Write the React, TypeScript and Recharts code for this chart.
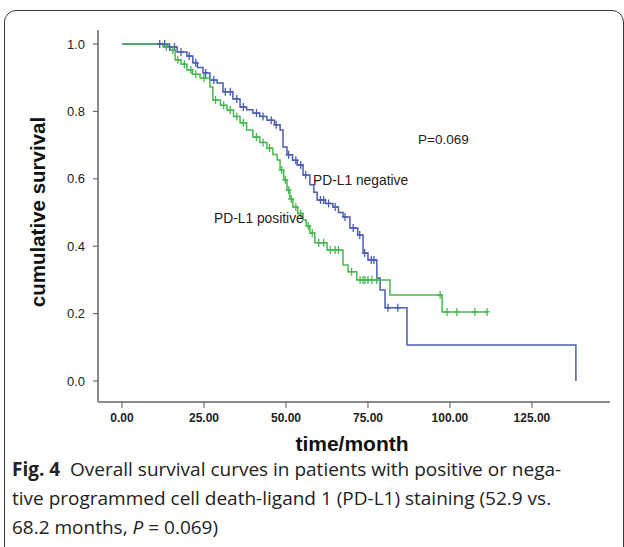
import React from "react";
import { ComposedChart, Line, Scatter, XAxis, YAxis } from "recharts";

// Kaplan-Meier step points: [time (months), cumulative survival]
const negTimes = [0, 14.0, 16.8, 19.8, 21.6, 23.0, 24.7, 26.8, 29.0, 30.8, 33.8, 36.0, 38.0, 39.9, 42.0, 44.2, 46.5, 48.2, 49.1, 50.3, 52.0, 53.4, 55.2, 57.3, 58.5, 59.5, 62.0, 64.3, 66.0, 67.4, 69.5, 71.9, 73.5, 75.0, 77.7, 78.7, 80.2, 86.9, 138.4];
const negSurv = [1.0, 0.991, 0.976, 0.964, 0.944, 0.93, 0.914, 0.893, 0.884, 0.858, 0.837, 0.813, 0.805, 0.795, 0.785, 0.774, 0.76, 0.745, 0.694, 0.671, 0.655, 0.641, 0.611, 0.582, 0.56, 0.537, 0.527, 0.516, 0.5, 0.487, 0.454, 0.433, 0.38, 0.359, 0.306, 0.27, 0.217, 0.107, 0.0];
const negCensored = [11.5, 13.0, 14.5, 16.0, 18.0, 20.5, 22.5, 25.5, 28.0, 31.5, 33.0, 35.0, 37.0, 41.0, 43.0, 45.5, 47.0, 50.8, 53.0, 54.5, 56.0, 60.5, 61.5, 63.0, 65.0, 68.0, 70.5, 72.5, 74.0, 76.0, 76.8, 81.1, 84.1];

const posTimes = [0, 12.5, 14.6, 16.2, 18.0, 19.8, 21.5, 23.8, 26.8, 27.7, 30.0, 32.0, 34.0, 36.0, 38.0, 39.9, 42.0, 44.2, 46.0, 47.3, 48.2, 49.3, 50.3, 51.2, 52.1, 53.6, 55.2, 56.2, 57.3, 58.8, 62.5, 67.4, 68.9, 71.6, 81.7, 97.6, 111.6];
const posSurv = [1.0, 0.991, 0.982, 0.953, 0.94, 0.923, 0.91, 0.899, 0.872, 0.834, 0.818, 0.804, 0.785, 0.766, 0.745, 0.724, 0.708, 0.691, 0.672, 0.656, 0.626, 0.597, 0.567, 0.54, 0.516, 0.497, 0.478, 0.46, 0.439, 0.41, 0.389, 0.344, 0.324, 0.3, 0.255, 0.205, 0.205];
const posCensored = [13.5, 15.5, 17.0, 19.0, 21.0, 22.5, 25.0, 28.5, 31.0, 33.0, 35.0, 37.0, 41.0, 43.0, 45.0, 48.7, 49.8, 50.8, 51.6, 53.0, 54.5, 56.8, 58.0, 60.0, 61.5, 63.5, 65.0, 66.0, 70.0, 72.6, 73.5, 74.1, 75.0, 76.2, 77.7, 97.0, 99.1, 102.1, 107.6, 111.3];

const xTicks = [0, 25, 50, 75, 100, 125];
const yTicks = [0, 0.2, 0.4, 0.6, 0.8, 1.0];

const BLUE = "#4a5db3";
const GREEN = "#45b94f";
const AXIS = "#8a8a8a";

const toSteps = (ts: number[], ss: number[]) => ts.map((t, i) => ({ t, s: ss[i] }));
const survAt = (ts: number[], ss: number[], t: number) => {
  let v = ss[0];
  for (let i = 0; i < ts.length; i++) if (ts[i] <= t) v = ss[i];
  return v;
};
const toCensor = (cs: number[], ts: number[], ss: number[]) =>
  cs.map((t) => ({ t, s: survAt(ts, ss, t) }));

const negData = toSteps(negTimes, negSurv);
const posData = toSteps(posTimes, posSurv);
const negCens = toCensor(negCensored, negTimes, negSurv);
const posCens = toCensor(posCensored, posTimes, posSurv);

const plus = (color: string) => (p: any) => {
  const { cx, cy } = p;
  if (cx == null || cy == null) return <g />;
  return (
    <path
      d={`M${cx - 3},${cy}H${cx + 3}M${cx},${cy - 4}V${cy + 4}`}
      stroke={color}
      strokeWidth={1.3}
      fill="none"
    />
  );
};

const SANS = "'Liberation Sans', Arial, sans-serif";
const lineStyle = { height: 22, lineHeight: "22px", marginBottom: 7 } as const;

export default function App() {
  return (
    <div
      style={{
        position: "absolute",
        left: 0,
        top: 0,
        width: 624,
        height: 547,
        overflow: "hidden",
        background: "#fff",
      }}
    >
      <div
        style={{
          position: "absolute",
          left: 4,
          top: 10,
          width: 620,
          height: 620,
          border: "1.5px solid #3a3a3a",
          borderRadius: 12,
          boxSizing: "border-box",
        }}
      />
      <div style={{ position: "absolute", left: 0, top: 0 }}>
        <ComposedChart
          width={624}
          height={547}
          margin={{ top: 30, right: 14, left: 38, bottom: 115 }}
        >
          <XAxis
            dataKey="t"
            type="number"
            domain={[-7.32, 148.8]}
            ticks={xTicks}
            allowDataOverflow
            tickFormatter={(v: number) => v.toFixed(2)}
            height={30}
            axisLine={{ stroke: AXIS, strokeWidth: 2 }}
            tickLine={{ stroke: "#555" }}
            tickSize={6}
            tickMargin={5}
            tick={{ fontSize: 12, fontWeight: "bold", fill: "#222", fontFamily: SANS }}
          />
          <YAxis
            dataKey="s"
            type="number"
            domain={[-0.0623, 1.0415]}
            ticks={yTicks}
            allowDataOverflow
            tickFormatter={(v: number) => v.toFixed(1)}
            width={60}
            axisLine={{ stroke: AXIS, strokeWidth: 2 }}
            tickLine={{ stroke: "#555" }}
            tickSize={5}
            tickMargin={8}
            tick={{ fontSize: 13, fill: "#222", fontFamily: SANS }}
          />
          <Line
            data={negData}
            dataKey="s"
            type="stepAfter"
            stroke={BLUE}
            strokeWidth={1.5}
            dot={false}
            isAnimationActive={false}
          />
          <Line
            data={posData}
            dataKey="s"
            type="stepAfter"
            stroke={GREEN}
            strokeWidth={1.5}
            dot={false}
            isAnimationActive={false}
          />
          <Scatter data={negCens} dataKey="s" shape={plus(BLUE)} isAnimationActive={false} />
          <Scatter data={posCens} dataKey="s" shape={plus(GREEN)} isAnimationActive={false} />
        </ComposedChart>
      </div>

      <div style={{ position: "absolute", left: 418, top: 132, fontFamily: SANS, fontSize: 13.5, color: "#222" }}>
        P=0.069
      </div>
      <div style={{ position: "absolute", left: 313, top: 173, fontFamily: SANS, fontSize: 13.8, color: "#222" }}>
        PD-L1 negative
      </div>
      <div style={{ position: "absolute", left: 214, top: 211, fontFamily: SANS, fontSize: 13.8, color: "#222" }}>
        PD-L1 positive
      </div>

      <div
        style={{
          position: "absolute",
          left: 38,
          top: 212,
          transform: "translate(-50%, -50%) rotate(-90deg)",
          whiteSpace: "nowrap",
          fontFamily: SANS,
          fontWeight: "bold",
          fontSize: 20.5,
          color: "#111",
        }}
      >
        cumulative survival
      </div>
      <div
        style={{
          position: "absolute",
          left: 352,
          top: 443,
          transform: "translate(-50%, -50%)",
          whiteSpace: "nowrap",
          fontFamily: SANS,
          fontWeight: "bold",
          fontSize: 21,
          lineHeight: 1,
          color: "#111",
        }}
      >
        time/month
      </div>

      <div
        style={{
          position: "absolute",
          left: 12,
          top: 458,
          width: 610,
          fontFamily: "'Open Sans', Lato, sans-serif",
          fontSize: 19,
          color: "#222",
          whiteSpace: "nowrap",
        }}
      >
        <div style={lineStyle}>
          <b>Fig. 4</b>&nbsp; Overall survival curves in patients with positive or nega-
        </div>
        <div style={lineStyle}>tive programmed cell death-ligand 1 (PD-L1) staining (52.9 vs.</div>
        <div style={lineStyle}>
          68.2 months, <i>P</i> = 0.069)
        </div>
      </div>
    </div>
  );
}
